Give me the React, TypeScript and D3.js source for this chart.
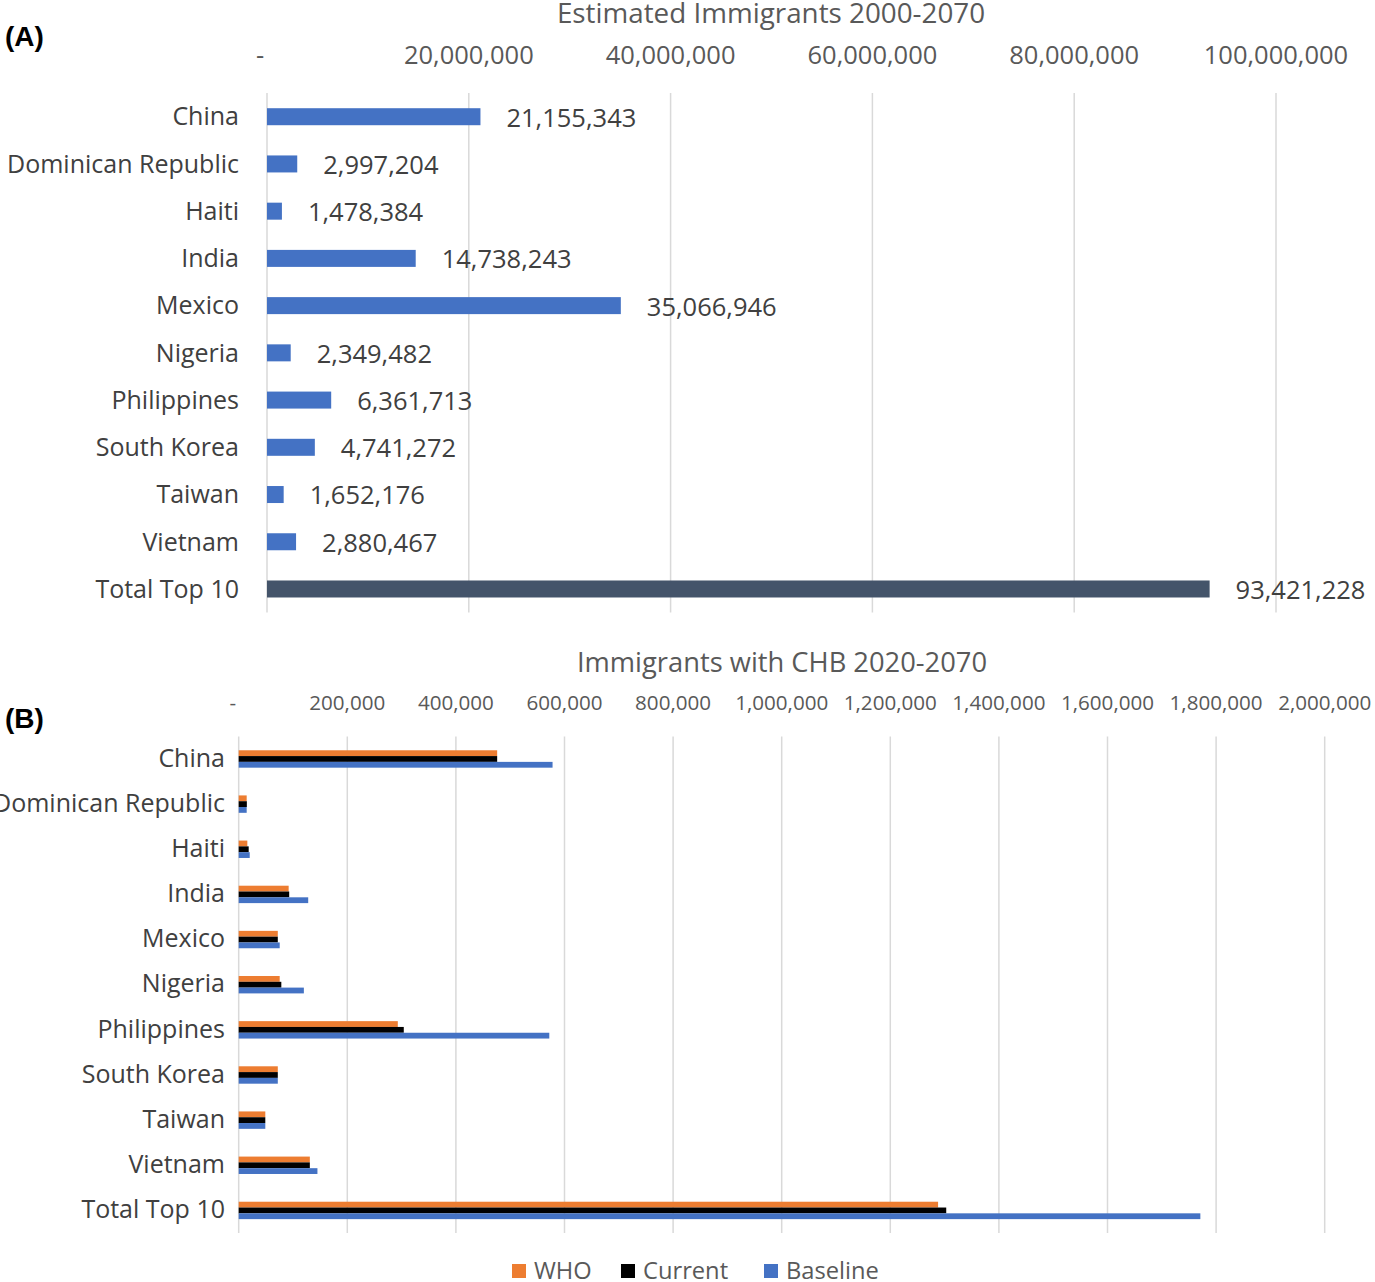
import React from "react";
import * as d3 from "d3";

const categories = [
  "China", "Dominican Republic", "Haiti", "India", "Mexico", "Nigeria",
  "Philippines", "South Korea", "Taiwan", "Vietnam", "Total Top 10",
];

const estimatedImmigrants = [
  21155343, 2997204, 1478384, 14738243, 35066946, 2349482,
  6361713, 4741272, 1652176, 2880467, 93421228,
];

const chbWHO = [476000, 14700, 15900, 92000, 72000, 75500, 293000, 72000, 49000, 131000, 1288000];
const chbCurrent = [476000, 15000, 18400, 93000, 72000, 78500, 304000, 72000, 49000, 131000, 1303000];
const chbBaseline = [578000, 14700, 20300, 128000, 75500, 120000, 572000, 72000, 49000, 145000, 1771000];

const ticksA = [0, 20000000, 40000000, 60000000, 80000000, 100000000];
const ticksB = [0, 200000, 400000, 600000, 800000, 1000000, 1200000, 1400000, 1600000, 1800000, 2000000];

const seriesB = [
  { name: "WHO", values: chbWHO, color: "#ED7D31" },
  { name: "Current", values: chbCurrent, color: "#000000" },
  { name: "Baseline", values: chbBaseline, color: "#4472C4" },
];

const FONT = "'Open Sans', sans-serif";
const fmt = d3.format(",");
const tickFmt = (v: number) => (v === 0 ? "-" : fmt(v));

export default function App() {
  const W = 1375, H = 1282;

  // Panel A
  const xA = d3.scaleLinear().domain([0, 100000000]).range([267, 1276]);
  const yA = d3.scaleBand<string>().domain(categories).range([93.1, 612.6]).padding(0);
  const barHA = 17;

  // Panel B
  const xB = d3.scaleLinear().domain([0, 2000000]).range([238.7, 1324.7]);
  const yB = d3.scaleBand<string>().domain(categories).range([736.4, 1233]).padding(0);
  const barHB = 5.8;

  return (
    <svg width={W} height={H} style={{ display: "block", position: "absolute", left: 0, top: 0 }} fontFamily={FONT}>
      <rect x={0} y={0} width={W} height={H} fill="#fff" />

      {/* Panel A */}
      <text x={5} y={46} fontFamily="'Liberation Sans', Arial, sans-serif" fontWeight="bold" fontSize={28} fill="#000">(A)</text>
      <text x={771} y={23} textAnchor="middle" fontSize={27.8} fill="#595959">Estimated Immigrants 2000-2070</text>
      {ticksA.map((t) => (
        <g key={"ga" + t}>
          <line x1={xA(t)} x2={xA(t)} y1={93.1} y2={612.6} stroke="#D9D9D9" strokeWidth={1.5} />
          <text x={t === 0 ? xA(t) - 7 : xA(t)} y={55} dy="0.35em" textAnchor="middle" fontSize={25.5} fill="#595959">{tickFmt(t)}</text>
        </g>
      ))}
      {categories.map((c, i) => {
        const cy = (yA(c) as number) + yA.bandwidth() / 2;
        const v = estimatedImmigrants[i];
        const isTotal = i === categories.length - 1;
        return (
          <g key={"a" + c}>
            <text x={239} y={cy} dy="0.35em" textAnchor="end" fontSize={25} fill="#404040">{c}</text>
            <rect x={xA(0)} y={cy - barHA / 2} width={xA(v) - xA(0)} height={barHA} fill={isTotal ? "#44546A" : "#4472C4"} />
            <text x={xA(v) + 26} y={cy + 1} dy="0.35em" textAnchor="start" fontSize={25.5} fill="#404040">{fmt(v)}</text>
          </g>
        );
      })}

      {/* Panel B */}
      <text x={5} y={728} fontFamily="'Liberation Sans', Arial, sans-serif" fontWeight="bold" fontSize={28} fill="#000">(B)</text>
      <text x={782} y={662} dy="0.35em" textAnchor="middle" fontSize={27.3} fill="#595959">Immigrants with CHB 2020-2070</text>
      {ticksB.map((t) => (
        <g key={"gb" + t}>
          <line x1={xB(t)} x2={xB(t)} y1={736.4} y2={1233} stroke="#D9D9D9" strokeWidth={1.5} />
          <text x={t === 0 ? xB(t) - 6 : xB(t)} y={703} dy="0.35em" textAnchor="middle" fontSize={20.6} fill="#595959">{tickFmt(t)}</text>
        </g>
      ))}
      {categories.map((c, i) => {
        const cy = (yB(c) as number) + yB.bandwidth() / 2;
        return (
          <g key={"b" + c}>
            <text x={225} y={cy - 1} dy="0.35em" textAnchor="end" fontSize={25} fill="#404040">{c}</text>
            {seriesB.map((s, j) => (
              <rect key={s.name} x={xB(0)} y={cy - 1.5 * barHB + j * barHB} width={xB(s.values[i]) - xB(0)} height={barHB} fill={s.color} />
            ))}
          </g>
        );
      })}

      {/* Legend */}
      {(() => {
        const items = [
          { s: seriesB[0], x: 512 },
          { s: seriesB[1], x: 621 },
          { s: seriesB[2], x: 764 },
        ];
        return items.map(({ s, x }) => (
          <g key={"lg" + s.name}>
            <rect x={x} y={1264} width={14} height={14} fill={s.color} />
            <text x={x + 22} y={1271} dy="0.35em" fontSize={23.7} fill="#595959">{s.name}</text>
          </g>
        ));
      })()}
    </svg>
  );
}
